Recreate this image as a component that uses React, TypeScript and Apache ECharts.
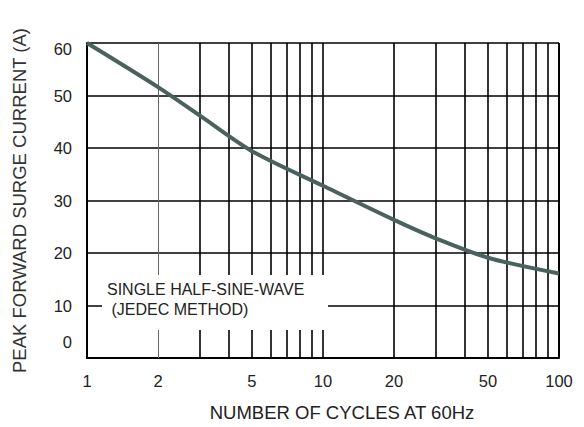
import React, { useEffect, useRef } from "react";
import * as echarts from "echarts";

const cycles = [1, 2, 3, 5, 10, 20, 30, 50, 100];
const surge = [60, 51.6, 46.2, 39.4, 32.8, 26.3, 22.8, 19.1, 16.1];
const xTickLabels = [1, 2, 5, 10, 20, 50, 100];
const xGridValues = [2, 3, 4, 5, 6, 7, 8, 9, 10, 20, 30, 40, 50, 60, 70, 80, 90, 100];
const noteLines = ["SINGLE HALF-SINE-WAVE", " (JEDEC METHOD)"];

export default function App() {
  const ref = useRef<HTMLDivElement>(null);
  useEffect(() => {
    if (!ref.current) return;
    const chart = echarts.init(ref.current, undefined, { renderer: "svg" });
    const font = "Liberation Sans, Arial, sans-serif";
    chart.setOption({
      animation: false,
      backgroundColor: "#ffffff",
      grid: { left: 87, right: 25, top: 43, bottom: 66 },
      xAxis: {
        type: "log",
        logBase: 10,
        min: 1,
        max: 100,
        name: "NUMBER OF CYCLES AT 60Hz",
        nameLocation: "middle",
        nameGap: 45,
        nameTextStyle: { fontFamily: font, fontSize: 18.5, color: "#222", padding: [0, 0, 0, 38] },
        axisLine: { show: true, lineStyle: { color: "#000", width: 2 } },
        axisTick: { show: false },
        splitLine: { show: false },
        minorSplitLine: { show: false },
        axisLabel: {
          customValues: xTickLabels,
          margin: 14,
          fontFamily: font,
          fontSize: 16.5,
          color: "#222",
        },
      },
      yAxis: {
        type: "value",
        min: 0,
        max: 60,
        interval: 10,
        name: "PEAK FORWARD SURGE CURRENT (A)",
        nameLocation: "middle",
        nameGap: 58,
        nameRotate: 90,
        nameTextStyle: { fontFamily: font, fontSize: 18.5, color: "#333" },
        axisLine: { show: true, lineStyle: { color: "#000", width: 2 } },
        axisTick: { show: false },
        splitLine: { show: true, lineStyle: { color: "#000", width: 1.5 } },
        axisLabel: {
          margin: 15,
          fontFamily: font,
          fontSize: 16.5,
          color: "#222",
          formatter: (v: number) =>
            v === 0 ? "{low|0}" : v === 60 ? "{high|60}" : String(v),
          rich: {
            low: { fontFamily: font, fontSize: 16.5, color: "#222", padding: [0, 0, 32, 0] },
            high: { fontFamily: font, fontSize: 16.5, color: "#222", padding: [12, 0, 0, 0] },
          },
        },
      },
      series: [
        {
          type: "line",
          data: [],
          z: 1,
          markLine: {
            silent: true,
            symbol: ["none", "none"],
            label: { show: false },
            lineStyle: { color: "#000", width: 1.6, type: "solid" },
            data: xGridValues.map((v) =>
              v === 2
                ? { xAxis: v, lineStyle: { color: "#666", width: 1, type: "solid" } }
                : v === 100
                ? { xAxis: v, lineStyle: { color: "#000", width: 2, type: "solid" } }
                : { xAxis: v }
            ),
          },
        },
        {
          type: "line",
          z: 5,
          smooth: 0.3,
          symbol: "none",
          lineStyle: { color: "#4b615e", width: 4 },
          data: cycles.map((c, i) => [c, surge[i]]),
        },
      ],
      graphic: [
        {
          type: "rect",
          z: 100,
          shape: { x: 102, y: 275, width: 226, height: 55 },
          style: { fill: "#ffffff" },
        },
        {
          type: "text",
          z: 101,
          x: 107,
          y: 289,
          style: {
            text: noteLines[0],
            fontFamily: font,
            fontSize: 16,
            fill: "#222",
            verticalAlign: "middle",
          },
        },
        {
          type: "text",
          z: 101,
          x: 107,
          y: 309,
          style: {
            text: noteLines[1],
            fontFamily: font,
            fontSize: 16,
            fill: "#222",
            verticalAlign: "middle",
          },
        },
      ],
    });
    return () => chart.dispose();
  }, []);
  return (
    <div
      ref={ref}
      style={{ position: "absolute", left: 0, top: 0, width: 584, height: 427 }}
    />
  );
}
